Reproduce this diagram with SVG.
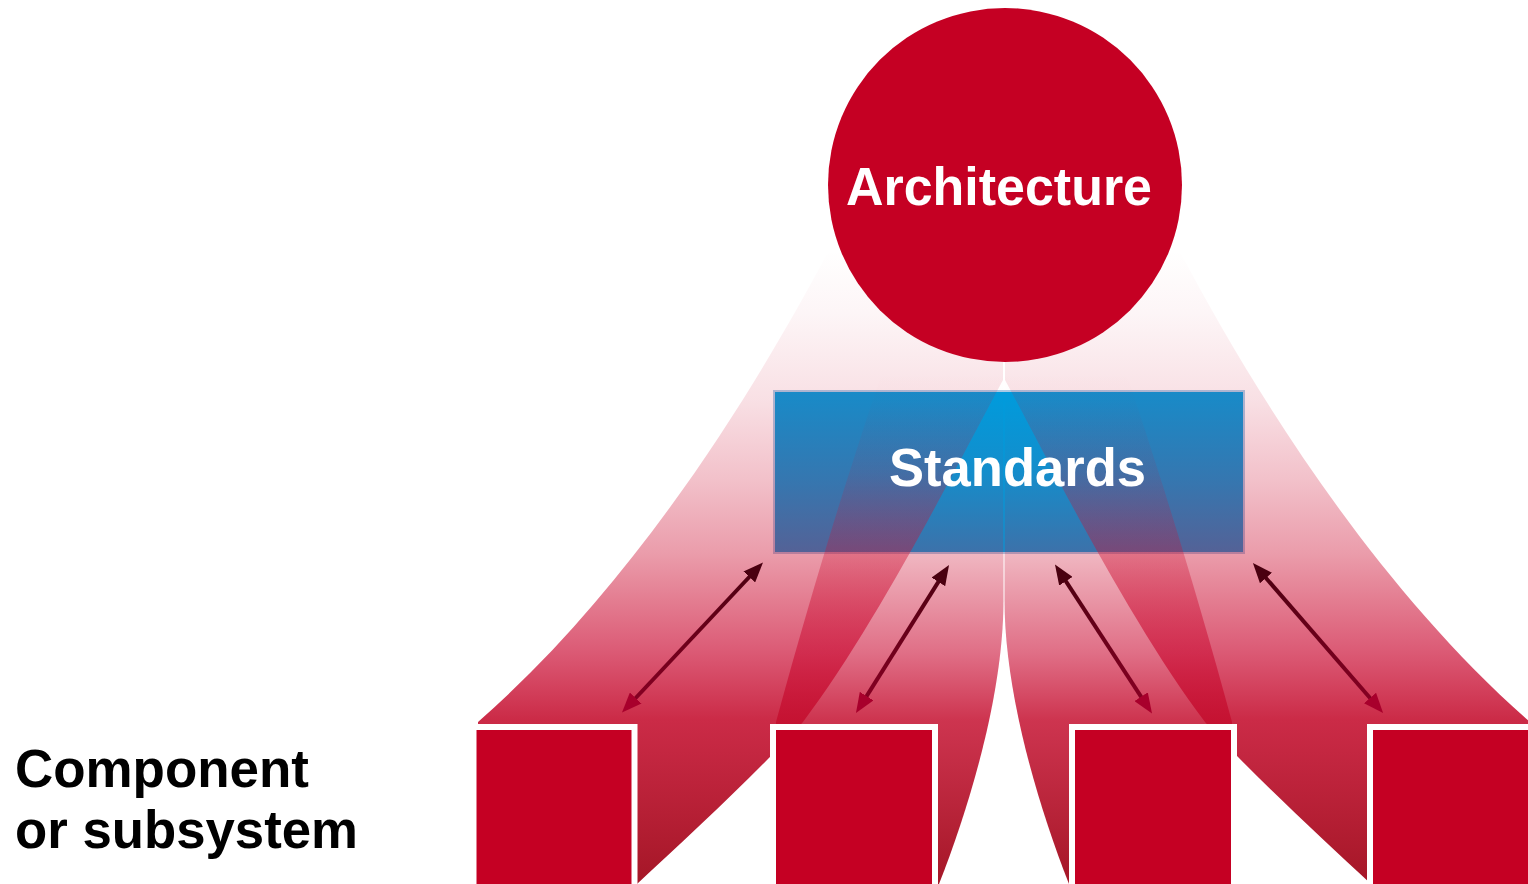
<svg xmlns="http://www.w3.org/2000/svg" width="1528" height="884" viewBox="0 0 1528 884">
  <defs>
    <linearGradient id="gradA" gradientUnits="userSpaceOnUse" x1="0" y1="250" x2="0" y2="884">
      <stop offset="0" stop-color="#cd0f32" stop-opacity="0"/>
      <stop offset="0.1" stop-color="#cd0f32" stop-opacity="0.04"/>
      <stop offset="0.237" stop-color="#cd0f32" stop-opacity="0.13"/>
      <stop offset="0.363" stop-color="#cd0f32" stop-opacity="0.26"/>
      <stop offset="0.478" stop-color="#cd0f32" stop-opacity="0.41"/>
      <stop offset="0.63" stop-color="#cb0f36" stop-opacity="0.68"/>
      <stop offset="0.74" stop-color="#c40e2e" stop-opacity="0.88"/>
      <stop offset="1" stop-color="#a20f20" stop-opacity="0.97"/>
    </linearGradient>
    <linearGradient id="gradB" gradientUnits="userSpaceOnUse" x1="0" y1="370" x2="0" y2="884">
      <stop offset="0" stop-color="#cd0f32" stop-opacity="0"/>
      <stop offset="0.06" stop-color="#cd0f32" stop-opacity="0.01"/>
      <stop offset="0.2" stop-color="#cd0f32" stop-opacity="0.1"/>
      <stop offset="0.35" stop-color="#cd0f32" stop-opacity="0.29"/>
      <stop offset="0.55" stop-color="#cb0f36" stop-opacity="0.6"/>
      <stop offset="0.68" stop-color="#c40e2e" stop-opacity="0.84"/>
      <stop offset="1" stop-color="#a20f20" stop-opacity="0.97"/>
    </linearGradient>
    <linearGradient id="gradArrow" gradientUnits="userSpaceOnUse" x1="0" y1="565" x2="0" y2="713">
      <stop offset="0" stop-color="#4a0010"/>
      <stop offset="1" stop-color="#8c0024"/>
    </linearGradient>
    <marker id="headTop" markerUnits="userSpaceOnUse" markerWidth="20" markerHeight="16" refX="13" refY="8" orient="auto-start-reverse">
      <path d="M0,0 L20,8 L0,16 Z" fill="#4a0010"/>
    </marker>
    <marker id="headBottom" markerUnits="userSpaceOnUse" markerWidth="20" markerHeight="16" refX="13" refY="8" orient="auto-start-reverse">
      <path d="M0,0 L20,8 L0,16 Z" fill="#a8002c"/>
    </marker>
    <style>
      .label { font-family: "Liberation Sans", Arial, Helvetica, sans-serif; font-weight: bold; }
      .white { fill: #ffffff; }
      .black { fill: #000000; }
      .comp { fill: #c50023; stroke: #ffffff; stroke-width: 6; }
      .arrow { fill: none; stroke: url(#gradArrow); stroke-width: 4; marker-start: url(#headBottom); marker-end: url(#headTop); }
    </style>
  </defs>

  <rect width="1528" height="884" fill="#ffffff"/>

  <!-- Standards box base (blue) -->
  <g id="node-standards-box">
    <rect x="774" y="391" width="470" height="162" fill="#009bdc" stroke="#a9cbe6" stroke-width="2"/>
  </g>

  <!-- Fans from architecture to components -->
  <g id="fans">
    <path id="fanA" fill="url(#gradA)" d="M1003,380 C965,450 880,620 803,722 C760,770 690,835 637,884 L478,884 L478,722 C640,580 760,380 828,252 L1003,250 Z"/>
    <path id="fanB" fill="url(#gradB)" d="M900,320 C862,430 820,560 776,722 L776,884 L939,884 C972,800 1003.5,690 1003.5,600 L1003.5,340 Z"/>
    <g transform="translate(2008,0) scale(-1,1)">
      <path id="fanD" fill="url(#gradA)" d="M1003,380 C965,450 880,620 803,722 C760,770 690,835 637,884 L478,884 L478,722 C640,580 760,380 828,252 L1003,250 Z"/>
      <path id="fanC" fill="url(#gradB)" d="M900,320 C862,430 820,560 776,722 L776,884 L939,884 C972,800 1003.5,690 1003.5,600 L1003.5,340 Z"/>
    </g>
  </g>

  <g id="node-architecture">
    <circle cx="1005" cy="185" r="177" fill="#c50023"/>
    <text class="label white" x="846" y="205" font-size="53" textLength="306" lengthAdjust="spacingAndGlyphs">Architecture</text>
  </g>

  <g id="node-standards">
    <text class="label white" x="889" y="486" font-size="53" textLength="257" lengthAdjust="spacingAndGlyphs">Standards</text>
  </g>

  <g id="node-component-1"><rect class="comp" x="473.5" y="727" width="161" height="163"/></g>
  <g id="node-component-2"><rect class="comp" x="773" y="727" width="162" height="163"/></g>
  <g id="node-component-3"><rect class="comp" x="1072" y="727" width="162" height="163"/></g>
  <g id="node-component-4"><rect class="comp" x="1370" y="727" width="164" height="163"/></g>

  <g id="connectors">
    <path class="arrow" d="M626.8,707.5 L758.2,567.5"/>
    <path class="arrow" d="M859.7,707.1 L945.3,570.9"/>
    <path class="arrow" d="M1148.2,707.6 L1058.8,570.4"/>
    <path class="arrow" d="M1378.5,707.8 L1257.5,568.2"/>
  </g>

  <g id="label-component">
    <text class="label black" x="15" y="787" font-size="53" textLength="294" lengthAdjust="spacingAndGlyphs">Component</text>
    <text class="label black" x="15" y="848" font-size="53" textLength="343" lengthAdjust="spacingAndGlyphs">or subsystem</text>
  </g>
</svg>
